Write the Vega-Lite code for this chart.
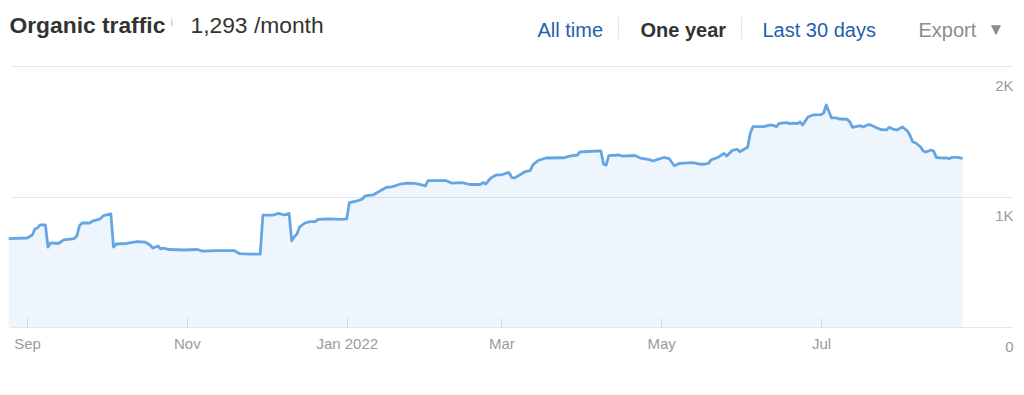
{
  "$schema": "https://vega.github.io/schema/vega-lite/v6.json",
  "width": 1003,
  "height": 261,
  "autosize": {"type": "none"},
  "padding": {"left": 10, "top": 66, "right": 11, "bottom": 68},
  "background": "white",
  "config": {"view": {"stroke": null}, "font": "Liberation Sans"},
  "resolve": {"scale": {"x": "independent"}},
  "layer": [
    {
      "data": {"values": [
        {"date": "2021-08-25", "visits": 677}, {"date": "2021-09-01", "visits": 682}, {"date": "2021-09-03", "visits": 705},
        {"date": "2021-09-04", "visits": 751}, {"date": "2021-09-05", "visits": 759}, {"date": "2021-09-06", "visits": 782},
        {"date": "2021-09-08", "visits": 782}, {"date": "2021-09-09", "visits": 613}, {"date": "2021-09-10", "visits": 644},
        {"date": "2021-09-13", "visits": 640}, {"date": "2021-09-15", "visits": 667}, {"date": "2021-09-19", "visits": 678},
        {"date": "2021-09-20", "visits": 697}, {"date": "2021-09-21", "visits": 776}, {"date": "2021-09-22", "visits": 797},
        {"date": "2021-09-25", "visits": 797}, {"date": "2021-09-26", "visits": 812}, {"date": "2021-09-29", "visits": 828},
        {"date": "2021-09-30", "visits": 851}, {"date": "2021-10-01", "visits": 858}, {"date": "2021-10-03", "visits": 866},
        {"date": "2021-10-04", "visits": 613}, {"date": "2021-10-05", "visits": 636}, {"date": "2021-10-09", "visits": 640},
        {"date": "2021-10-13", "visits": 655}, {"date": "2021-10-16", "visits": 651}, {"date": "2021-10-18", "visits": 628},
        {"date": "2021-10-19", "visits": 605}, {"date": "2021-10-21", "visits": 621}, {"date": "2021-10-22", "visits": 598},
        {"date": "2021-10-23", "visits": 605}, {"date": "2021-10-25", "visits": 594}, {"date": "2021-10-31", "visits": 590},
        {"date": "2021-11-05", "visits": 594}, {"date": "2021-11-07", "visits": 582}, {"date": "2021-11-12", "visits": 586},
        {"date": "2021-11-19", "visits": 586}, {"date": "2021-11-21", "visits": 563}, {"date": "2021-11-25", "visits": 559},
        {"date": "2021-11-29", "visits": 559}, {"date": "2021-11-30", "visits": 858}, {"date": "2021-12-04", "visits": 858},
        {"date": "2021-12-06", "visits": 870}, {"date": "2021-12-08", "visits": 858}, {"date": "2021-12-10", "visits": 870},
        {"date": "2021-12-11", "visits": 661}, {"date": "2021-12-12", "visits": 692}, {"date": "2021-12-13", "visits": 713},
        {"date": "2021-12-14", "visits": 766}, {"date": "2021-12-16", "visits": 797}, {"date": "2021-12-18", "visits": 808},
        {"date": "2021-12-20", "visits": 808}, {"date": "2021-12-21", "visits": 824}, {"date": "2021-12-25", "visits": 828},
        {"date": "2021-12-30", "visits": 824}, {"date": "2022-01-01", "visits": 828}, {"date": "2022-01-02", "visits": 953},
        {"date": "2022-01-05", "visits": 966}, {"date": "2022-01-07", "visits": 981}, {"date": "2022-01-08", "visits": 1004},
        {"date": "2022-01-11", "visits": 1012}, {"date": "2022-01-13", "visits": 1035}, {"date": "2022-01-16", "visits": 1069},
        {"date": "2022-01-18", "visits": 1073}, {"date": "2022-01-21", "visits": 1092}, {"date": "2022-01-24", "visits": 1103},
        {"date": "2022-01-27", "visits": 1100}, {"date": "2022-01-30", "visits": 1088}, {"date": "2022-01-31", "visits": 1080},
        {"date": "2022-02-01", "visits": 1121}, {"date": "2022-02-08", "visits": 1121}, {"date": "2022-02-10", "visits": 1103},
        {"date": "2022-02-14", "visits": 1107}, {"date": "2022-02-17", "visits": 1092}, {"date": "2022-02-21", "visits": 1092},
        {"date": "2022-02-22", "visits": 1107}, {"date": "2022-02-23", "visits": 1096}, {"date": "2022-02-25", "visits": 1142},
        {"date": "2022-02-27", "visits": 1165}, {"date": "2022-03-01", "visits": 1165}, {"date": "2022-03-03", "visits": 1180},
        {"date": "2022-03-04", "visits": 1182}, {"date": "2022-03-05", "visits": 1144}, {"date": "2022-03-06", "visits": 1142},
        {"date": "2022-03-08", "visits": 1165}, {"date": "2022-03-10", "visits": 1190}, {"date": "2022-03-12", "visits": 1199},
        {"date": "2022-03-13", "visits": 1241}, {"date": "2022-03-15", "visits": 1276}, {"date": "2022-03-18", "visits": 1295},
        {"date": "2022-03-25", "visits": 1297}, {"date": "2022-03-27", "visits": 1310}, {"date": "2022-03-30", "visits": 1318},
        {"date": "2022-03-31", "visits": 1341}, {"date": "2022-04-03", "visits": 1345}, {"date": "2022-04-08", "visits": 1349},
        {"date": "2022-04-09", "visits": 1247}, {"date": "2022-04-10", "visits": 1241}, {"date": "2022-04-11", "visits": 1313},
        {"date": "2022-04-15", "visits": 1318}, {"date": "2022-04-16", "visits": 1310}, {"date": "2022-04-21", "visits": 1314},
        {"date": "2022-04-23", "visits": 1295}, {"date": "2022-04-26", "visits": 1284}, {"date": "2022-04-28", "visits": 1272},
        {"date": "2022-04-29", "visits": 1280}, {"date": "2022-05-02", "visits": 1299}, {"date": "2022-05-04", "visits": 1291},
        {"date": "2022-05-06", "visits": 1236}, {"date": "2022-05-08", "visits": 1254}, {"date": "2022-05-13", "visits": 1259},
        {"date": "2022-05-15", "visits": 1251}, {"date": "2022-05-17", "visits": 1247}, {"date": "2022-05-19", "visits": 1253},
        {"date": "2022-05-20", "visits": 1280}, {"date": "2022-05-23", "visits": 1303}, {"date": "2022-05-24", "visits": 1318},
        {"date": "2022-05-25", "visits": 1330}, {"date": "2022-05-26", "visits": 1310}, {"date": "2022-05-28", "visits": 1351},
        {"date": "2022-05-30", "visits": 1362}, {"date": "2022-05-31", "visits": 1343}, {"date": "2022-06-02", "visits": 1366},
        {"date": "2022-06-03", "visits": 1377}, {"date": "2022-06-04", "visits": 1487}, {"date": "2022-06-05", "visits": 1535},
        {"date": "2022-06-09", "visits": 1535}, {"date": "2022-06-12", "visits": 1548}, {"date": "2022-06-13", "visits": 1543},
        {"date": "2022-06-14", "visits": 1535}, {"date": "2022-06-15", "visits": 1561}, {"date": "2022-06-18", "visits": 1566},
        {"date": "2022-06-19", "visits": 1558}, {"date": "2022-06-21", "visits": 1563}, {"date": "2022-06-22", "visits": 1558},
        {"date": "2022-06-23", "visits": 1571}, {"date": "2022-06-24", "visits": 1548}, {"date": "2022-06-26", "visits": 1609},
        {"date": "2022-06-28", "visits": 1625}, {"date": "2022-07-01", "visits": 1627}, {"date": "2022-07-02", "visits": 1640},
        {"date": "2022-07-03", "visits": 1701}, {"date": "2022-07-05", "visits": 1602}, {"date": "2022-07-07", "visits": 1602},
        {"date": "2022-07-08", "visits": 1594}, {"date": "2022-07-11", "visits": 1592}, {"date": "2022-07-12", "visits": 1571},
        {"date": "2022-07-13", "visits": 1530}, {"date": "2022-07-16", "visits": 1543}, {"date": "2022-07-17", "visits": 1533},
        {"date": "2022-07-19", "visits": 1550}, {"date": "2022-07-20", "visits": 1548}, {"date": "2022-07-22", "visits": 1529},
        {"date": "2022-07-24", "visits": 1512}, {"date": "2022-07-26", "visits": 1510}, {"date": "2022-07-27", "visits": 1530},
        {"date": "2022-07-29", "visits": 1512}, {"date": "2022-07-30", "visits": 1510}, {"date": "2022-08-01", "visits": 1533},
        {"date": "2022-08-03", "visits": 1502}, {"date": "2022-08-04", "visits": 1466}, {"date": "2022-08-05", "visits": 1418},
        {"date": "2022-08-06", "visits": 1412}, {"date": "2022-08-08", "visits": 1379}, {"date": "2022-08-09", "visits": 1349},
        {"date": "2022-08-10", "visits": 1341}, {"date": "2022-08-12", "visits": 1356}, {"date": "2022-08-13", "visits": 1346},
        {"date": "2022-08-14", "visits": 1300}, {"date": "2022-08-15", "visits": 1297}, {"date": "2022-08-18", "visits": 1295},
        {"date": "2022-08-19", "visits": 1290}, {"date": "2022-08-20", "visits": 1300}, {"date": "2022-08-22", "visits": 1300},
        {"date": "2022-08-24", "visits": 1293}
      ]},
      "encoding": {
        "x": {
          "field": "date", "type": "temporal",
          "scale": {"domain": [{"year": 2021, "month": 8, "date": 25, "hours": 12}, {"year": 2022, "month": 9, "date": 12, "hours": 6}]},
          "axis": {
            "orient": "bottom", "title": null, "grid": false, "domain": false,
            "values": [{"year": 2021, "month": 9, "date": 1}, {"year": 2021, "month": 11, "date": 1}, {"year": 2022, "month": 1, "date": 1}, {"year": 2022, "month": 3, "date": 1}, {"year": 2022, "month": 5, "date": 1}, {"year": 2022, "month": 7, "date": 1}],
            "labelExpr": "month(datum.value) == 0 ? timeFormat(datum.value, '%b %Y') : timeFormat(datum.value, '%b')",
            "ticks": true, "tickSize": -9, "tickColor": "#e0e0e0", "tickWidth": 1,
            "labelColor": "#9b9b9b", "labelFont": "Liberation Sans", "labelFontSize": 15,
            "labelBaseline": "middle", "labelPadding": 25, "labelFlush": false, "labelOverlap": false
          }
        },
        "y": {
          "field": "visits", "type": "quantitative",
          "scale": {"domain": [0, 2000], "nice": false},
          "axis": {
            "orient": "right", "title": null, "values": [0, 1000, 2000],
            "labelExpr": "datum.value == 0 ? '0' : (datum.value / 1000) + 'K'",
            "grid": true, "gridColor": "#e6e6e6", "gridWidth": 1, "domain": false, "ticks": false,
            "labelAlign": "right", "labelBaseline": "middle", "labelOffset": 19, "labelPadding": 0,
            "labelColor": "#9b9b9b", "labelFont": "Liberation Sans", "labelFontSize": 15,
            "labelFlush": false, "labelOverlap": false
          }
        }
      },
      "layer": [
        {"mark": {"type": "area", "color": "#4a90e2", "opacity": 0.09, "interpolate": "linear"}},
        {"mark": {"type": "line", "color": "#64a6e3", "strokeWidth": 2.8, "interpolate": "linear", "strokeJoin": "round"}}
      ]
    },
    {
      "data": {"values": [{}]},
      "mark": {"type": "point", "opacity": 0},
      "encoding": {
        "x": {
          "datum": 0, "type": "quantitative",
          "scale": {"domain": [0, 1024], "range": [-10, 1014]},
          "axis": {
            "orient": "top", "offset": 28, "title": null, "grid": false, "domain": false,
            "values": [9, 170, 190, 537, 618, 640, 741, 762, 918, 987],
            "labelExpr": "datum.value == 9 ? 'Organic traffic' : datum.value == 170 ? 'i' : datum.value == 190 ? '1,293 /month' : datum.value == 537 ? 'All time' : datum.value == 640 ? 'One year' : datum.value == 762 ? 'Last 30 days' : datum.value == 918 ? 'Export' : datum.value == 987 ? '▼' : ''",
            "ticks": true, "tickSize": 21, "tickColor": "#e3e3e3", "tickWidth": 1,
            "tickOpacity": {"condition": {"test": "datum.value == 618 || datum.value == 741", "value": 1}, "value": 0},
            "labelAlign": "left", "labelBaseline": "alphabetic", "labelFont": "Liberation Sans",
            "labelFontSize": {"condition": [{"test": "datum.value == 9 || datum.value == 190", "value": 22.8}, {"test": "datum.value == 170", "value": 11}, {"test": "datum.value == 987", "value": 17}], "value": 20},
            "labelFontWeight": {"condition": {"test": "datum.value == 9 || datum.value == 640", "value": "bold"}, "value": "normal"},
            "labelColor": {"condition": [{"test": "datum.value == 537 || datum.value == 762", "value": "#1f5fad"}, {"test": "datum.value == 918 || datum.value == 987", "value": "#8c8c8c"}, {"test": "datum.value == 170", "value": "#b3b3b3"}], "value": "#333333"},
            "labelPadding": {"condition": [{"test": "datum.value == 9 || datum.value == 190", "value": -15}, {"test": "datum.value == 170", "value": -8.5}, {"test": "datum.value == 987", "value": -17.5}], "value": -19},
            "labelFlush": false, "labelOverlap": false, "labelBound": false, "labelLimit": 0
          }
        }
      }
    }
  ]
}
